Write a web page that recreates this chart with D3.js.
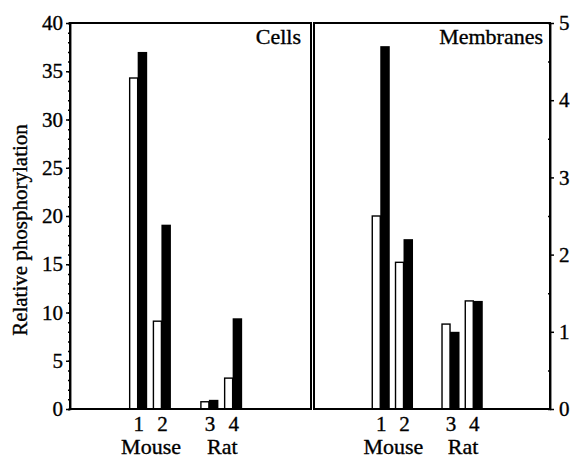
<!DOCTYPE html>
<html>
<head>
<meta charset="utf-8">
<script src="https://cdn.jsdelivr.net/npm/d3@7"></script>
<style>
  body { margin: 0; background: #fff; }
  text { font-family: "Liberation Serif", "DejaVu Serif", serif; fill: #000; stroke: #000; stroke-width: 0.35px; }
</style>
</head>
<body>
<svg id="chart" width="572" height="458"></svg>
<script>
const samples = ["1", "2", "3", "4"]
const species = ["Mouse", "Rat"]
const cellsOpen = [34.3, 9.1, 0.75, 3.2]
const cellsFilled = [37.0, 19.1, 0.95, 9.4]
const membOpen = [2.5, 1.9, 1.1, 1.4]
const membFilled = [4.7, 2.2, 1.0, 1.4]
const cellsTicks = [0, 5, 10, 15, 20, 25, 30, 35, 40]
const membTicks = [0, 1, 2, 3, 4, 5]

const svg = d3.select("#chart")
const plotTop = 23, plotBottom = 409

// slot of each sample along x (gap between mouse and rat)
const slot = i => i < 2 ? i + 1 : i + 2

const panels = [
    { name: "Cells", open: cellsOpen, filled: cellsFilled, max: 40, range: [70, 311] },
    { name: "Membranes", open: membOpen, filled: membFilled, max: 5, range: [314, 550] }
]

panels.forEach(p => {
    p.x = d3.scaleLinear().domain([-1.85, 8.3]).range(p.range)
    p.y = d3.scaleLinear().domain([0, p.max]).range([plotBottom, plotTop])
    const g = svg.append("g")

    // white bars
    g.selectAll(".open").data(p.open).join("rect")
        .attr("x", (d, i) => p.x(slot(i)) - 8)
        .attr("width", 8)
        .attr("y", d => p.y(d))
        .attr("height", d => plotBottom - p.y(d))
        .attr("fill", "#fff").attr("stroke", "#000").attr("stroke-width", 1.4)

    g.selectAll(".filled").data(p.filled).join("rect")
        .attr("x", (d, i) => p.x(slot(i)))
        .attr("width", 9.5)
        .attr("y", d => p.y(d))
        .attr("height", d => plotBottom - p.y(d))
        .attr("fill", "#000")

    // frame
    const [x0, x1] = p.range
    g.append("path")
        .attr("d", `M${x0},${plotBottom}V${plotTop}H${x1}V${plotBottom}Z`)
        .attr("fill", "none").attr("stroke", "#000").attr("stroke-width", 2)

    g.append("text")
        .attr("x", p.name == "Cells" ? 301 : 543)
        .attr("y", 44)
        .attr("text-anchor", "end")
        .attr("font-size", 22)
        .text(p.name)

    // sample numbers
    g.selectAll(".num").data(samples).join("text")
        .attr("x", (d, i) => p.x(slot(i)) + 1)
        .attr("y", 431)
        .attr("text-anchor", "middle")
        .attr("font-size", 21)
        .text(d => d)

    g.selectAll(".sp").data(species).join("text")
        .attr("x", (d, i) => (p.x(slot(2 * i)) + p.x(slot(2 * i + 1))) / 2 + 1.5)
        .attr("y", 454)
        .attr("text-anchor", "middle")
        .attr("font-size", 22)
        .text(d => d)
})

// left axis
const yl = panels[0].y
const leftAxis = svg.append("g").attr("transform", "translate(70,0)")
    .call(d3.axisLeft(yl).tickValues(cellsTicks).tickSize(4).tickPadding(3).tickSizeOuter(0))
leftAxis.append("g")
    .call(d3.axisLeft(yl).tickValues(d3.range(0, 41)).tickSize(2).tickFormat(""))
leftAxis.selectAll("text").attr("font-size", 21).attr("font-family", "Liberation Serif")
leftAxis.selectAll("path,line").attr("stroke-width", 1.5)

// right axis
const yr = panels[1].y
const rightAxis = svg.append("g").attr("transform", "translate(550,0)")
    .call(d3.axisRight(yr).tickValues(membTicks).tickFormat(d3.format("d"))
        .tickSize(4).tickPadding(5).tickSizeOuter(0))
rightAxis.append("g")
    .call(d3.axisLeft(yr).tickValues([0.5, 1.5, 2.5, 3.5, 4.5]).tickSize(2).tickFormat(""))
rightAxis.selectAll("text").attr("font-size", 21).attr("font-family", "Liberation Serif")
rightAxis.selectAll("path,line").attr("stroke-width", 1.5)

svg.append("text")
    .attr("transform", "translate(27,230) rotate(-90)")
    .attr("text-anchor", "middle")
    .attr("font-size", 21)
    .text("Relative phosphorylation")
</script>
</body>
</html>
